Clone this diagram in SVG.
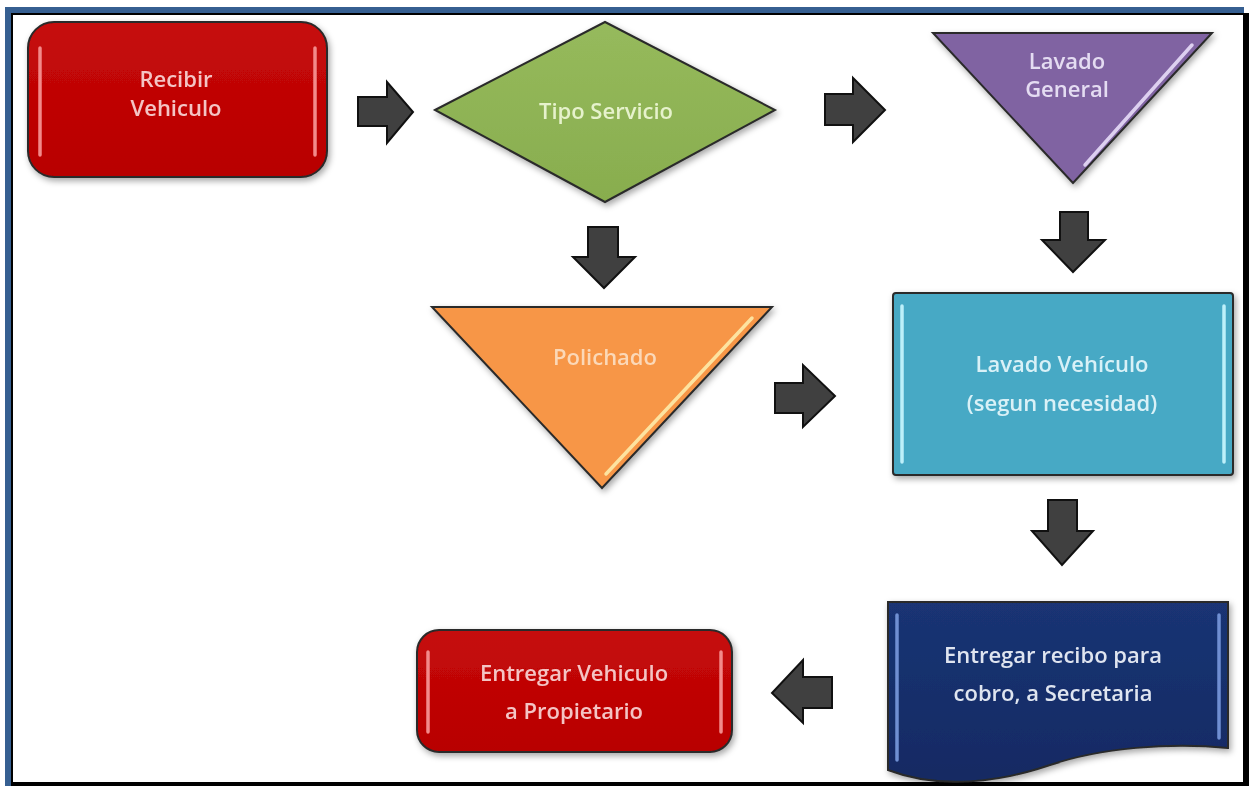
<svg xmlns="http://www.w3.org/2000/svg" width="1249" height="786" viewBox="0 0 1249 786">
  <defs>
    <filter id="soft" x="-10%" y="-10%" width="120%" height="125%">
      <feDropShadow dx="2" dy="3" stdDeviation="3" flood-color="#000" flood-opacity="0.35"/>
    </filter>
    <linearGradient id="redFill" x1="0" y1="0" x2="0" y2="1">
      <stop offset="0" stop-color="#c60a0a"/>
      <stop offset="1" stop-color="#b80000"/>
    </linearGradient>
    <linearGradient id="greenFill" x1="0" y1="0" x2="0" y2="1">
      <stop offset="0" stop-color="#96ba5c"/>
      <stop offset="1" stop-color="#88ad4e"/>
    </linearGradient>
    <linearGradient id="navyFill" x1="0" y1="0" x2="0" y2="1">
      <stop offset="0" stop-color="#1a3474"/>
      <stop offset="1" stop-color="#132a63"/>
    </linearGradient>
  </defs>
  <style>
    .lbl { font-family: "Open Sans", "Liberation Sans", sans-serif; font-weight: 600; font-size: 22px; text-anchor: middle; }
    .arrow { fill: #404040; stroke: #111; stroke-width: 2; stroke-linejoin: miter; }
    .edge { stroke: #2a2a2a; stroke-width: 2; }
    .shine { fill: none; stroke-width: 3.5; stroke-linecap: round; }
  </style>

  <!-- page frame: blue band top/left, dark band bottom/right -->
  <g id="frame">
    <rect x="0" y="0" width="1249" height="786" fill="#ffffff"/>
    <rect x="11" y="13" width="1238" height="773" fill="#000000"/>
    <rect x="5" y="7" width="1239" height="6" fill="#365f91"/>
    <rect x="5" y="7" width="6" height="779" fill="#365f91"/>
    <rect x="13" y="15" width="1230" height="767" fill="#ffffff"/>
  </g>

  <!-- Recibir Vehiculo -->
  <g id="recibir-vehiculo" filter="url(#soft)">
    <rect x="28" y="22" width="299" height="155" rx="26" fill="url(#redFill)" class="edge"/>
    <line x1="40" y1="48" x2="40" y2="155" stroke="#f28a8a" class="shine"/>
    <line x1="315" y1="48" x2="315" y2="155" stroke="#f28a8a" class="shine"/>
    <text class="lbl" x="176" y="87" fill="#f4c4c4">Recibir</text>
    <text class="lbl" x="176" y="116" fill="#f4c4c4">Vehiculo</text>
  </g>

  <!-- Tipo Servicio -->
  <g id="tipo-servicio" filter="url(#soft)">
    <polygon points="435,110 605,22 775,110 605,202" fill="url(#greenFill)" class="edge"/>
    <text class="lbl" x="606" y="119" fill="#e6f2cc">Tipo Servicio</text>
  </g>

  <!-- Lavado General -->
  <g id="lavado-general" filter="url(#soft)">
    <polygon points="933,33 1212,33 1073,183" fill="#8064a2" class="edge"/>
    <line x1="1192" y1="45" x2="1085" y2="165" stroke="#ddd0f0" class="shine"/>
    <text class="lbl" x="1067" y="69" fill="#e4dcf2">Lavado</text>
    <text class="lbl" x="1067" y="97" fill="#e4dcf2">General</text>
  </g>

  <!-- Polichado -->
  <g id="polichado" filter="url(#soft)">
    <polygon points="432,307 772,307 602,488" fill="#f79646" class="edge"/>
    <line x1="752" y1="318" x2="606" y2="474" stroke="#fde3a0" class="shine"/>
    <text class="lbl" x="605" y="365" fill="#fbd8b8">Polichado</text>
  </g>

  <!-- Lavado Vehículo -->
  <g id="lavado-vehiculo" filter="url(#soft)">
    <rect x="893" y="293" width="340" height="182" rx="3" fill="#47a9c5" class="edge"/>
    <line x1="902" y1="306" x2="902" y2="462" stroke="#bdf0fa" class="shine"/>
    <line x1="1224" y1="306" x2="1224" y2="462" stroke="#bdf0fa" class="shine"/>
    <text class="lbl" x="1062" y="372" fill="#d9f1f7">Lavado Vehículo</text>
    <text class="lbl" x="1062" y="411" fill="#d9f1f7">(segun necesidad)</text>
  </g>

  <!-- Entregar recibo -->
  <g id="entregar-recibo" filter="url(#soft)">
    <path d="M888,602 L1228,602 L1228,748 C1170,742 1100,748 1050,765 C1000,782 940,790 888,770 Z" fill="url(#navyFill)" class="edge"/>
    <line x1="897" y1="615" x2="897" y2="760" stroke="#6f8fd2" class="shine"/>
    <line x1="1219" y1="615" x2="1219" y2="738" stroke="#6f8fd2" class="shine"/>
    <text class="lbl" x="1053" y="663" fill="#dfe5f0">Entregar recibo para</text>
    <text class="lbl" x="1053" y="701" fill="#dfe5f0">cobro, a Secretaria</text>
  </g>

  <!-- Entregar Vehiculo a Propietario -->
  <g id="entregar-vehiculo" filter="url(#soft)">
    <rect x="417" y="630" width="315" height="122" rx="22" fill="url(#redFill)" class="edge"/>
    <line x1="428" y1="652" x2="428" y2="732" stroke="#f28a8a" class="shine"/>
    <line x1="721" y1="652" x2="721" y2="732" stroke="#f28a8a" class="shine"/>
    <text class="lbl" x="574" y="681" fill="#f4c4c4">Entregar Vehiculo</text>
    <text class="lbl" x="574" y="719" fill="#f4c4c4">a Propietario</text>
  </g>

  <!-- block arrows between steps -->
  <g id="connectors">
    <polygon class="arrow" points="358,97 387,97 387,82 413,112 387,143 387,126 358,126"/>
    <polygon class="arrow" points="825,94 853,94 853,78 885,110 853,142 853,125 825,125"/>
    <polygon class="arrow" points="588,227 618,227 618,257 635,257 604,288 573,257 588,257"/>
    <polygon class="arrow" points="1060,212 1088,212 1088,240 1105,240 1073,272 1042,240 1060,240"/>
    <polygon class="arrow" points="775,383 803,383 803,365 835,396 803,427 803,413 775,413"/>
    <polygon class="arrow" points="1048,500 1077,500 1077,531 1093,531 1062,565 1032,531 1048,531"/>
    <polygon class="arrow" points="832,677 803,677 803,660 772,693 803,723 803,708 832,708"/>
  </g>
</svg>
